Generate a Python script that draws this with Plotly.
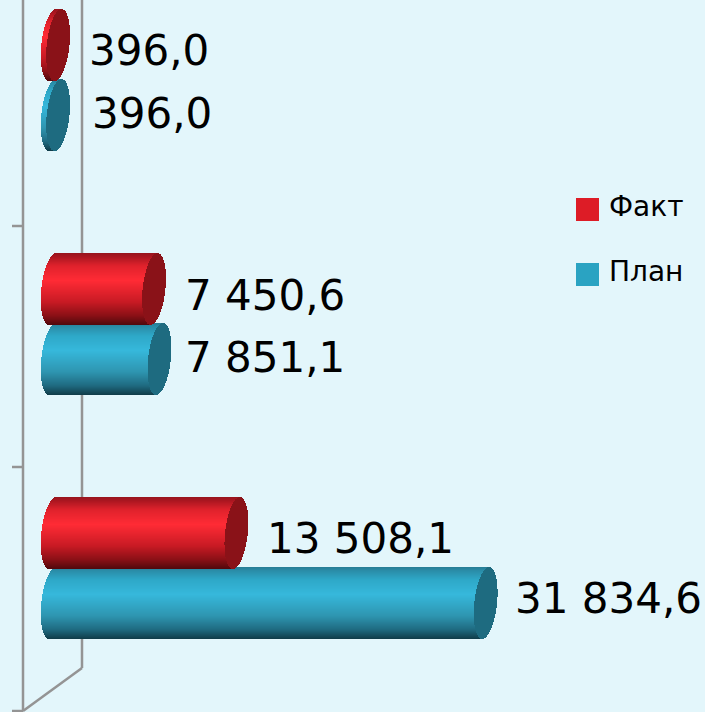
import numpy as np
import plotly.graph_objects as go

# ---------- data (bottom-to-top category order) ----------
series_names = ["План", "Факт"]
plan_values = [31834.6, 7851.1, 396.0]
fact_values = [13508.1, 7450.6, 396.0]

# ---------- styling ----------
W, H = 705, 712
BG = "#E3F6FB"
PX_PER_UNIT = 0.0136
LEFT_CENTER_PX = 52.7
GROUP_PX0, GROUP_STEP = 568.0, 244.0
HALF_H = 36.0
OFFSET = 35.0
CAP_A = 11.4
SHEAR = 3.5

x_min = -LEFT_CENTER_PX / PX_PER_UNIT
x_max = (W - LEFT_CENTER_PX) / PX_PER_UNIT
y_min = (GROUP_PX0 - H) / GROUP_STEP
y_max = GROUP_PX0 / GROUP_STEP

RAMPS = {
    "План": dict(stops=[(0, (38, 125, 148)), (.05, (42, 140, 168)), (.18, (46, 168, 200)), (.38, (54, 184, 219)),
                        (.68, (46, 149, 176)), (.87, (31, 106, 128)), (1, (16, 60, 72))],
                 cap="#1E6B80", legend="#2AA3C2"),
    "Факт": dict(stops=[(0, (150, 20, 28)), (.05, (170, 22, 32)), (.18, (224, 34, 44)), (.38, (255, 43, 53)),
                        (.68, (200, 26, 36)), (.87, (138, 16, 22)), (1, (80, 8, 12))],
                 cap="#8A1218", legend="#DD1C26"),
}


def ramp(stops, t):
    for (t0, c0), (t1, c1) in zip(stops, stops[1:]):
        if t <= t1:
            f = (t - t0) / (t1 - t0)
            return "rgb(%d,%d,%d)" % tuple(round(a + (b - a) * f) for a, b in zip(c0, c1))
    return "rgb(%d,%d,%d)" % stops[-1][1]


def cylinder_traces(name, values, sign):
    """Each cylinder is a stack of one-pixel horizontal bars placed on the data axes."""
    body_y, body_base, body_x, body_c = [], [], [], []
    cap_y, cap_base, cap_x = [], [], []
    n = int(HALF_H * 2)
    for i, v in enumerate(values):
        yc = i + sign * OFFSET / GROUP_STEP
        for r in range(n):
            u = 1 - (r + 0.5) / n * 2
            half = CAP_A * np.sqrt(max(0, 1 - u * u)) / PX_PER_UNIT
            shift = SHEAR * u / PX_PER_UNIT
            y = yc + u * HALF_H / GROUP_STEP
            left = shift - half
            body_y.append(y)
            body_base.append(left)
            body_x.append(v + shift - left)
            body_c.append(ramp(RAMPS[name]["stops"], (r + 0.5) / n))
            cap_y.append(y)
            cap_base.append(v + shift - half)
            cap_x.append(2 * half)
    w = 1.0 / GROUP_STEP
    return [
        go.Bar(y=body_y, x=body_x, base=body_base, orientation="h", width=w, name=name,
               marker=dict(color=body_c, line=dict(width=0)), showlegend=False, hoverinfo="skip"),
        go.Bar(y=cap_y, x=cap_x, base=cap_base, orientation="h", width=w, name=name,
               marker=dict(color=RAMPS[name]["cap"], line=dict(width=0)), showlegend=False, hoverinfo="skip"),
    ]


fig = go.Figure()
fig.add_traces(cylinder_traces("План", plan_values, -1))
fig.add_traces(cylinder_traces("Факт", fact_values, +1))


def fmt(v):
    return f"{v:,.1f}".replace(",", " ").replace(".", ",")


label_font = dict(family="DejaVu Sans", size=42, color="#000000")
plan_shift = [(16, -5), (12, -2), (21, -2)]
fact_shift = [(17, 5), (18, 6), (18, 5)]
annotations = []
for i, (v, (dx, dy)) in enumerate(zip(plan_values, plan_shift)):
    annotations.append(dict(x=v, y=i - OFFSET / GROUP_STEP, text=fmt(v), showarrow=False, xanchor="left",
                            xshift=CAP_A + dx, yshift=-dy, font=label_font))
for i, (v, (dx, dy)) in enumerate(zip(fact_values, fact_shift)):
    annotations.append(dict(x=v, y=i + OFFSET / GROUP_STEP, text=fmt(v), showarrow=False, xanchor="left",
                            xshift=CAP_A + dx, yshift=-dy, font=label_font))

legend_font = dict(family="DejaVu Sans", size=28, color="#000000")
for name, ty in (("Факт", 206), ("План", 271)):
    annotations.append(dict(xref="paper", yref="paper", x=607 / W, y=1 - ty / H, text=name, showarrow=False,
                            xanchor="left", yanchor="middle", font=legend_font))

GRID = "#949494"
def pline(x0, y0, x1, y1):
    return dict(type="line", xref="paper", yref="paper", x0=x0 / W, y0=1 - y0 / H, x1=x1 / W, y1=1 - y1 / H,
                line=dict(color=GRID, width=2.5), layer="below")

shapes = [pline(23, 0, 23, 711), pline(82, 0, 82, 668), pline(23, 711, 82, 668),
          pline(12, 226, 23, 226), pline(12, 467, 23, 467), pline(12, 711, 23, 711)]
for name, py_box in (("Факт", 198), ("План", 263)):
    shapes.append(dict(type="rect", xref="paper", yref="paper", x0=576 / W, x1=599 / W,
                       y0=1 - py_box / H, y1=1 - (py_box + 23) / H,
                       fillcolor=RAMPS[name]["legend"], line=dict(width=0)))

fig.update_layout(
    width=W, height=H, margin=dict(l=0, r=0, t=0, b=0), autosize=False,
    paper_bgcolor=BG, plot_bgcolor=BG, barmode="overlay", bargap=0, showlegend=False,
    xaxis=dict(range=[x_min, x_max], visible=False, fixedrange=True),
    yaxis=dict(range=[y_min, y_max], visible=False, fixedrange=True),
    annotations=annotations, shapes=shapes,
)
fig.write_html("out.html", config=dict(displayModeBar=False),
               post_script="document.body.style.margin='0';document.documentElement.style.overflow='hidden';")
